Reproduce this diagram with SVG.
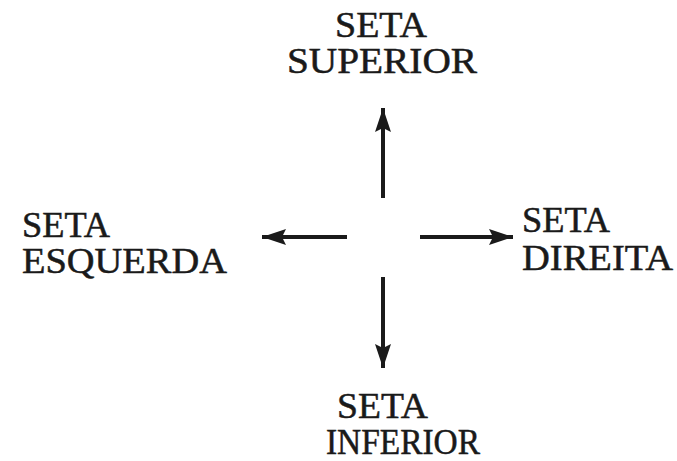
<svg xmlns="http://www.w3.org/2000/svg" width="677" height="461" viewBox="0 0 677 461">
<style>
text{font-family:"Liberation Serif","Times New Roman",serif;font-size:35px;fill:#1a1a1a;stroke:#1a1a1a;stroke-width:0.5}
.c{stroke:#1a1a1a;stroke-width:4;fill:none}
</style>
<defs>
<marker id="ah" markerUnits="userSpaceOnUse" markerWidth="26" markerHeight="18" refX="24" refY="8" orient="auto">
<path d="M0,0 L24,8 L0,16 L4,8 Z" fill="#1a1a1a"/>
</marker>
</defs>
<rect width="677" height="461" fill="#fff"/>
<g id="connectors">
<line class="c" x1="383" y1="198" x2="383" y2="108" marker-end="url(#ah)"/>
<line class="c" x1="347" y1="237" x2="262" y2="237" marker-end="url(#ah)"/>
<line class="c" x1="420" y1="237" x2="513" y2="237" marker-end="url(#ah)"/>
<line class="c" x1="383" y1="277" x2="383" y2="368" marker-end="url(#ah)"/>
</g>
<g id="superior">
<text x="335" y="37" textLength="92" lengthAdjust="spacingAndGlyphs">SETA</text>
<text x="287" y="73" textLength="190" lengthAdjust="spacingAndGlyphs">SUPERIOR</text>
</g>
<g id="esquerda">
<text x="22" y="237" textLength="88" lengthAdjust="spacingAndGlyphs">SETA</text>
<text x="22" y="273" textLength="205" lengthAdjust="spacingAndGlyphs">ESQUERDA</text>
</g>
<g id="direita">
<text x="522" y="232" textLength="88" lengthAdjust="spacingAndGlyphs">SETA</text>
<text x="522" y="270" textLength="151" lengthAdjust="spacingAndGlyphs">DIREITA</text>
</g>
<g id="inferior">
<text x="337" y="418" textLength="91" lengthAdjust="spacingAndGlyphs">SETA</text>
<text x="326" y="454" textLength="154" lengthAdjust="spacingAndGlyphs">INFERIOR</text>
</g>
</svg>
